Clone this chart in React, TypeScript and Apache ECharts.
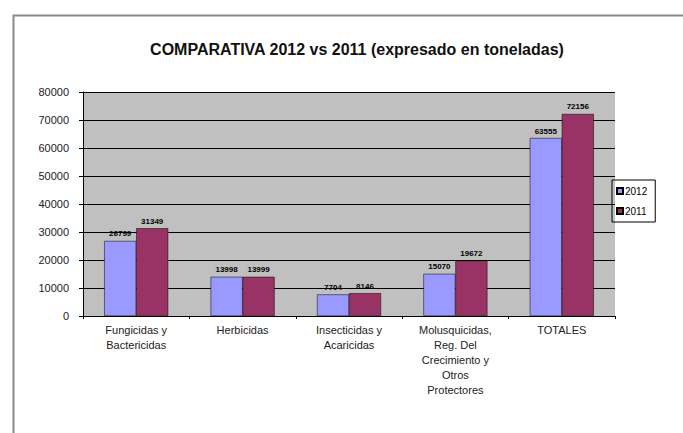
import React, { useEffect, useRef } from "react";
import * as echarts from "echarts";

const categories = [
  "Fungicidas y\nBactericidas",
  "Herbicidas",
  "Insecticidas y\nAcaricidas",
  "Molusquicidas,\nReg. Del\nCrecimiento y\nOtros\nProtectores",
  "TOTALES",
];
const values2012 = [26799, 13998, 7704, 15070, 63555];
const values2011 = [31349, 13999, 8146, 19672, 72156];
const seriesNames = ["2012", "2011"];

export default function App() {
  const ref = useRef<HTMLDivElement>(null);
  useEffect(() => {
    if (!ref.current) return;
    const chart = echarts.init(ref.current, undefined, { renderer: "svg" });
    const font = "Arial, 'Liberation Sans', sans-serif";
    const label = {
      show: true,
      position: "top" as const,
      fontSize: 8,
      fontWeight: "bold" as const,
      color: "#000",
      fontFamily: font,
      distance: 3,
    };
    chart.setOption({
      animation: false,
      backgroundColor: "#ffffff",
      title: {
        text: "COMPARATIVA 2012 vs 2011 (expresado en toneladas)",
        left: 352,
        top: 36,
        textAlign: "center",
        textStyle: { fontSize: 16, fontWeight: "bold", color: "#111", fontFamily: font },
      },
      graphic: [
        {
          type: "rect",
          shape: { x: 13.5, y: 15.5, width: 700, height: 450 },
          style: { fill: "none", stroke: "#8a8a8a", lineWidth: 2 },
          silent: true,
        },
      ],
      legend: {
        orient: "vertical",
        left: 612,
        top: 180,
        itemWidth: 6,
        itemHeight: 6,
        itemGap: 10,
        padding: [6, 8, 6, 4],
        borderColor: "#000",
        borderWidth: 1,
        icon: "rect",
        textStyle: { fontSize: 10, color: "#000", fontFamily: font, padding: [0, 0, 0, -3] },
        data: seriesNames,
      },
      grid: { left: 83, right: 68, top: 92, bottom: 117, containLabel: false },
      xAxis: {
        type: "category",
        data: categories,
        axisLine: { lineStyle: { color: "#000", width: 1 } },
        axisTick: { show: true, lineStyle: { color: "#000" }, length: 3 },
        axisLabel: {
          interval: 0,
          fontSize: 11,
          color: "#222",
          fontFamily: font,
          lineHeight: 15,
          margin: 6,
        },
        splitLine: { show: false },
      },
      yAxis: {
        type: "value",
        min: 0,
        max: 80000,
        interval: 10000,
        axisLine: { show: true, lineStyle: { color: "#000" } },
        axisTick: { show: true, lineStyle: { color: "#000" }, length: 4 },
        axisLabel: {
          fontSize: 11,
          color: "#222",
          fontFamily: font,
          margin: 14,
          formatter: (v: number) => String(v),
        },
        splitLine: { show: true, lineStyle: { color: "#000", width: 1 } },
        splitArea: { show: true, areaStyle: { color: ["#c0c0c0", "#c0c0c0"] } },
      },
      series: [
        {
          name: seriesNames[0],
          type: "bar",
          data: values2012,
          barWidth: 32,
          barGap: "0%",
          itemStyle: { color: "#9999ff", borderColor: "#000", borderWidth: 0.5 },
          label,
        },
        {
          name: seriesNames[1],
          type: "bar",
          data: values2011,
          barWidth: 32,
          itemStyle: { color: "#993366", borderColor: "#000", borderWidth: 0.5 },
          label,
        },
      ],
    });
    return () => chart.dispose();
  }, []);
  return (
    <div
      ref={ref}
      style={{ position: "absolute", left: 0, top: 0, width: 683, height: 433 }}
    />
  );
}
